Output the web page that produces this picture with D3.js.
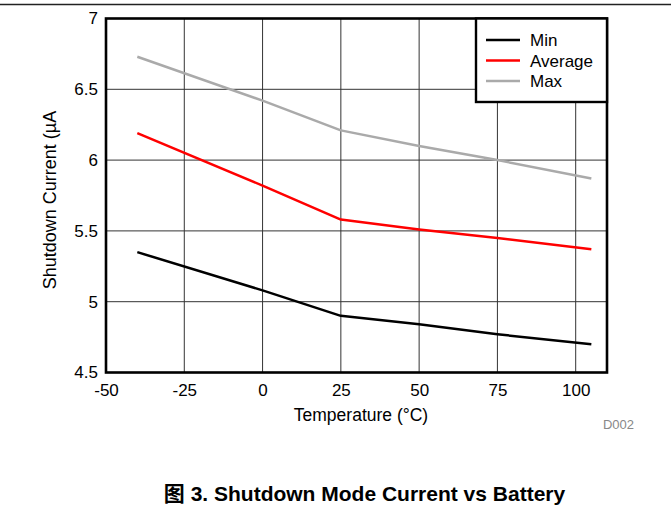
<!DOCTYPE html>
<html><head><meta charset="utf-8">
<script src="https://cdn.jsdelivr.net/npm/d3@7"></script>
<style>body{margin:0;background:#fff}svg{display:block}text{font-family:"Liberation Sans",Arial,sans-serif}</style>
</head><body><svg id="c" width="671" height="508"></svg>
<script>
const temps = [-40, 0, 25, 50, 75, 105];
const minVals = [5.35, 5.08, 4.90, 4.84, 4.77, 4.70];
const avgVals = [6.19, 5.82, 5.58, 5.51, 5.45, 5.37];
const maxVals = [6.73, 6.42, 6.21, 6.10, 6.00, 5.87];
const xTicks = [-50, -25, 0, 25, 50, 75, 100];
const yTicks = [4.5, 5, 5.5, 6, 6.5, 7];
const seriesNames = ["Min", "Average", "Max"];
const seriesColors = ["#000000", "#ff0000", "#aaaaaa"];

const FF = "Liberation Sans, Arial, sans-serif";
const FS = 17;
const svg = d3.select("#c");
const L = 106, R = 607, T = 18.5, B = 372.5;
const x = d3.scaleLinear().domain([-50, 110]).range([L, R]);
const y = d3.scaleLinear().domain([4.5, 7]).range([B, T]);

svg.append("line").attr("x1",0).attr("x2",671).attr("y1",4.5).attr("y2",4.5).attr("stroke","#222").attr("stroke-width",1.3);

// grid
svg.append("g").selectAll("line").data(xTicks.slice(1)).join("line")
  .attr("x1",d=>x(d)).attr("x2",d=>x(d)).attr("y1",T).attr("y2",B)
  .attr("stroke","#333").attr("stroke-width",1);
svg.append("g").selectAll("line").data(yTicks.slice(1,-1)).join("line")
  .attr("x1",L).attr("x2",R).attr("y1",d=>y(d)).attr("y2",d=>y(d))
  .attr("stroke","#333").attr("stroke-width",1);

// axes labels
const xa = svg.append("g").attr("transform",`translate(0,${B})`)
  .call(d3.axisBottom(x).tickValues(xTicks).tickSize(0).tickPadding(11).tickFormat(d=>String(d)));
xa.select(".domain").remove();
xa.attr("font-size",FS).attr("font-family",FF);
xa.selectAll("text").attr("fill","#000");
const ya = svg.append("g").attr("transform",`translate(${L},0)`)
  .call(d3.axisLeft(y).tickValues(yTicks).tickSize(0).tickPadding(8).tickFormat(d=>String(d)));
ya.select(".domain").remove();
ya.attr("font-size",FS).attr("font-family",FF);
ya.selectAll("text").attr("fill","#000");

// lines
const series = [minVals, avgVals, maxVals];
const line = d3.line().x((d,i)=>x(temps[i])).y(d=>y(d));
series.forEach((vals,k)=>{
  svg.append("path").datum(vals).attr("d",line).attr("fill","none")
    .attr("stroke",seriesColors[k]).attr("stroke-width",2.5).attr("stroke-linejoin","round");
});

// frame
svg.append("rect").attr("x",L).attr("y",T).attr("width",R-L).attr("height",B-T)
  .attr("fill","none").attr("stroke","#000").attr("stroke-width",2.6);

// legend
const lg = svg.append("g");
lg.append("rect").attr("x",476).attr("y",T).attr("width",R-476).attr("height",102-T)
  .attr("fill","#fff").attr("stroke","#000").attr("stroke-width",2.4);
seriesNames.forEach((n,k)=>{
  const yy = 40 + k*20.5;
  lg.append("line").attr("x1",486).attr("x2",520).attr("y1",yy).attr("y2",yy)
    .attr("stroke",seriesColors[k]).attr("stroke-width",2.5);
  lg.append("text").attr("x",530).attr("y",yy+6).attr("font-size",FS).text(n);
});

// axis titles
svg.append("text").attr("x",361).attr("y",421).attr("text-anchor","middle").attr("font-size",17.5).text("Temperature (°C)");
svg.append("text").attr("transform","translate(56,200) rotate(-90)").attr("text-anchor","middle").attr("font-size",18).text("Shutdown Current (µA");
svg.append("text").attr("x",634).attr("y",429).attr("text-anchor","end").attr("font-size",13).attr("fill","#888").text("D002");
svg.append("text").attr("x",364.5).attr("y",501).attr("text-anchor","middle").attr("font-size",21).attr("font-weight","bold")
  .style("font-family","'Liberation Sans', Arial, 'Noto Sans CJK SC', sans-serif").text("图 3. Shutdown Mode Current vs Battery");
</script></body></html>
